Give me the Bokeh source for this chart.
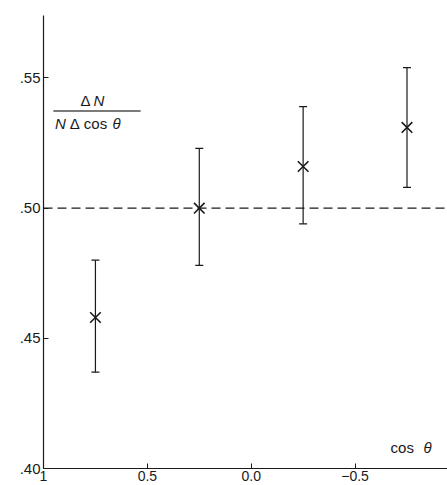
from bokeh.plotting import figure
from bokeh.models import (ColumnDataSource, Range1d, FixedTicker, CustomJSTickFormatter,
                          Whisker, TeeHead, Span, Label, BoxAnnotation)
from bokeh.embed import file_html
from bokeh.resources import INLINE

# data
cos_theta = [0.75, 0.25, -0.25, -0.75]
ratio = [0.458, 0.500, 0.516, 0.531]
ratio_upper = [0.480, 0.523, 0.539, 0.554]
ratio_lower = [0.437, 0.478, 0.494, 0.508]
reference_level = 0.50
x_ticks = [1, 0.5, 0.0, -0.5, -1]
y_ticks = [0.40, 0.45, 0.50, 0.55]

src = ColumnDataSource(dict(x=cos_theta, y=ratio, up=ratio_upper, lo=ratio_lower))

FONT = "Liberation Sans"
INK = "#1a1a1a"

p = figure(width=447, height=485, output_backend="svg", toolbar_location=None,
           x_range=Range1d(1, -0.945), y_range=Range1d(0.40, 0.574),
           min_border_left=43, min_border_right=0, min_border_top=15, min_border_bottom=17)
p.outline_line_color = None
p.xgrid.visible = False
p.ygrid.visible = False
p.background_fill_color = "white"

for ax in (p.xaxis[0], p.yaxis[0]):
    ax.axis_line_color = INK
    ax.axis_line_width = 1.2
    ax.major_tick_line_color = INK
    ax.major_tick_in = 5
    ax.major_tick_out = 0
    ax.minor_tick_line_color = None
    ax.major_label_text_font = FONT
    ax.major_label_text_color = INK

p.xaxis.ticker = FixedTicker(ticks=x_ticks)
p.xaxis.formatter = CustomJSTickFormatter(code="""
    if (Math.abs(tick) == 1) return tick.toFixed(0).replace('-', '\u2212');
    return tick.toFixed(1).replace('-', '\u2212');
""")
p.xaxis.major_label_standoff = 2
p.xaxis.major_label_text_font_size = "14px"
p.yaxis.ticker = FixedTicker(ticks=y_ticks)
p.yaxis.formatter = CustomJSTickFormatter(code="return tick.toFixed(2).replace(/^0/, '');")
p.yaxis.major_label_standoff = 3
p.yaxis.major_label_text_font_size = "15px"

# dashed reference line
p.add_layout(Span(location=reference_level, dimension="width", line_color=INK,
                  line_dash="9 5", line_width=1.1))

# error bars
p.add_layout(Whisker(source=src, base="x", upper="up", lower="lo", dimension="height",
                     line_color=INK, line_width=1.2,
                     upper_head=TeeHead(size=8, line_color=INK, line_width=1.2),
                     lower_head=TeeHead(size=8, line_color=INK, line_width=1.2)))

# points
p.scatter("x", "y", source=src, marker="x", size=15, line_width=1.6, line_color=INK)


def lab(x, y, text, italic=False, size="15px"):
    p.add_layout(Label(x=x, y=y, text=text, text_font=FONT,
                       text_font_style="italic" if italic else "normal",
                       text_font_size=size, text_color=INK, text_align="left",
                       text_baseline="alphabetic"))


# y label as a fraction
lab(0.822, 0.5412, "Δ")
lab(0.759, 0.5412, "N", italic=True)
p.add_layout(BoxAnnotation(left=0.952, right=0.533, bottom=0.5371, top=0.5375,
                           fill_color=INK, fill_alpha=1, line_color=INK, line_width=0.5))
lab(0.945, 0.5326, "N", italic=True)
lab(0.874, 0.5326, "Δ")
lab(0.806, 0.5326, "cos")
lab(0.668, 0.5326, "θ", italic=True)

# x label inside the plot
lab(-0.671, 0.4082, "cos")
lab(-0.829, 0.4082, "θ", italic=True)

open("out.html", "w").write(file_html(p, INLINE))
